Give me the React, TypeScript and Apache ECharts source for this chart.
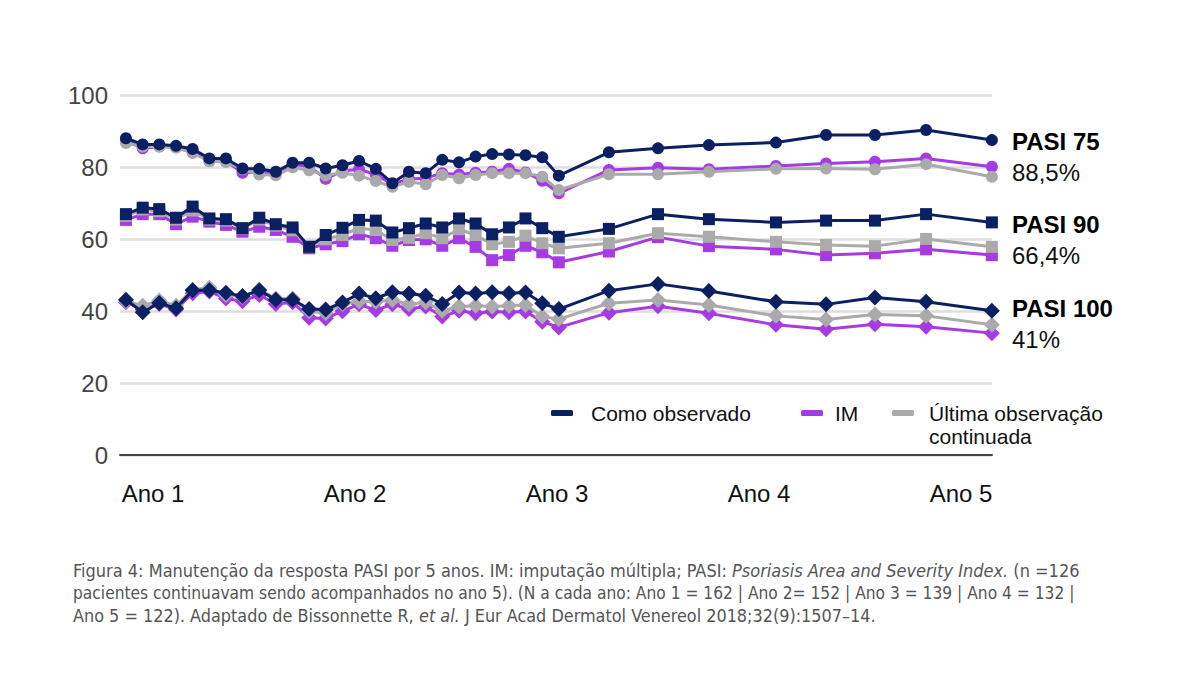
import React, { useEffect, useRef } from "react";
import * as echarts from "echarts";

// x position of each visit, in years
const xYears = [0.866, 0.949, 1.031, 1.114, 1.196, 1.279, 1.361, 1.443, 1.526, 1.608, 1.691, 1.773, 1.855, 1.938, 2.02, 2.103, 2.185, 2.267, 2.35, 2.432, 2.515, 2.597, 2.679, 2.762, 2.844, 2.927, 3.009, 3.257, 3.5, 3.752, 4.084, 4.332, 4.574, 4.827, 5.153];

const yearTicks = [1, 2, 3, 4, 5];
const yTicks = [0, 20, 40, 60, 80, 100];

const pasi75Obs = [88.1, 86.4, 86.4, 86.0, 85.1, 82.5, 82.5, 79.7, 79.6, 78.8, 81.3, 81.3, 79.7, 80.6, 81.8, 79.6, 75.6, 78.8, 78.4, 82.1, 81.4, 83.0, 83.7, 83.6, 83.4, 82.8, 77.7, 84.2, 85.3, 86.2, 86.9, 89.0, 89.0, 90.4, 87.6];
const pasi75IM = [87.5, 85.3, 85.8, 85.6, 84.5, 81.8, 81.8, 78.5, 78.8, 78.3, 80.8, 80.3, 76.8, 79.0, 79.5, 78.0, 75.3, 76.8, 77.0, 78.4, 78.0, 78.5, 78.8, 79.6, 78.6, 76.3, 72.8, 79.3, 79.9, 79.5, 80.4, 81.1, 81.6, 82.5, 80.2];
const pasi75LOCF = [86.8, 85.8, 85.8, 85.5, 84.0, 81.7, 81.5, 79.5, 78.0, 77.8, 80.0, 79.2, 77.8, 78.5, 77.7, 76.2, 74.6, 76.0, 75.3, 77.9, 77.0, 77.9, 78.4, 78.4, 78.4, 77.4, 73.7, 78.1, 78.1, 78.8, 79.6, 79.7, 79.5, 80.9, 77.4];

const pasi90Obs = [67.0, 68.8, 68.4, 66.0, 69.1, 65.8, 65.6, 63.1, 66.0, 64.2, 63.3, 57.9, 61.2, 63.2, 65.4, 65.2, 61.9, 63.1, 64.4, 63.3, 65.8, 64.4, 61.4, 63.3, 65.8, 63.1, 60.7, 62.9, 67.0, 65.6, 64.7, 65.2, 65.2, 67.0, 64.7];
const pasi90IM = [65.4, 67.0, 67.0, 64.2, 66.3, 64.9, 64.0, 62.1, 63.5, 62.6, 60.7, 57.5, 58.6, 59.5, 61.4, 60.3, 58.2, 59.8, 60.0, 58.2, 60.3, 57.9, 54.2, 55.6, 58.2, 56.4, 53.6, 56.6, 60.6, 58.1, 57.2, 55.6, 56.1, 57.2, 55.6];
const pasi90LOCF = [66.5, 68.3, 67.8, 65.5, 68.0, 65.5, 65.2, 63.0, 65.5, 63.8, 62.5, 58.0, 60.0, 61.2, 63.1, 62.6, 59.8, 60.4, 61.7, 60.3, 62.8, 61.2, 58.6, 59.3, 61.0, 58.9, 57.5, 58.9, 61.7, 60.7, 59.3, 58.4, 58.1, 60.1, 57.9];

const pasi100Obs = [43.2, 39.7, 42.3, 40.8, 45.8, 45.8, 45.1, 44.2, 45.8, 43.2, 43.2, 40.6, 40.5, 42.4, 44.9, 43.6, 45.3, 44.9, 44.3, 42.0, 45.2, 44.9, 45.3, 45.0, 45.2, 42.2, 40.6, 45.7, 47.6, 45.6, 42.6, 41.9, 43.8, 42.6, 40.1];
const pasi100IM = [42.5, 40.5, 42.0, 40.5, 45.0, 45.5, 43.5, 42.8, 44.5, 42.0, 42.5, 38.2, 38.0, 40.0, 41.9, 40.3, 41.9, 40.6, 41.3, 38.5, 40.1, 39.4, 39.9, 39.7, 39.9, 37.1, 35.5, 39.6, 41.4, 39.4, 36.2, 35.0, 36.4, 35.7, 33.9];
const pasi100LOCF = [42.8, 41.5, 43.0, 41.5, 46.0, 46.5, 44.5, 44.0, 46.0, 43.5, 43.5, 40.0, 39.5, 42.0, 42.8, 42.6, 43.1, 41.9, 42.5, 40.1, 41.3, 41.5, 41.3, 41.5, 41.7, 38.5, 37.8, 42.2, 43.1, 41.7, 38.7, 37.7, 39.1, 38.7, 36.2];

const methodNames = ["Como observado", "IM", "Última observação continuada"];
const endLabels = [
  { title: "PASI 75", value: "88,5%" },
  { title: "PASI 90", value: "66,4%" },
  { title: "PASI 100", value: "41%" },
];
const captionLines = [
  "Figura 4: Manutenção da resposta PASI por 5 anos. IM: imputação múltipla; PASI: {i|Psoriasis Area and Severity Index.} (n =126",
  "pacientes continuavam sendo acompanhados no ano 5). (N a cada ano: Ano 1 = 162 | Ano 2= 152 | Ano 3 = 139 | Ano 4 = 132 |",
  "Ano 5 = 122). Adaptado de Bissonnette R, {i|et al.} J Eur Acad Dermatol Venereol 2018;32(9):1507–14.",
];

const NAVY = "#0b1f63";
const PURPLE = "#a63ae3";
const GRAY = "#aaaaaa";

export default function App() {
  const ref = useRef<HTMLDivElement>(null);
  useEffect(() => {
    if (!ref.current) return;
    const chart = echarts.init(ref.current, undefined, { renderer: "svg" });
    const toData = (arr: number[]) => arr.map((v, i) => [xYears[i], v]);
    const groups = [
      { obs: pasi75Obs, im: pasi75IM, locf: pasi75LOCF, symbol: "circle", size: 12 },
      { obs: pasi90Obs, im: pasi90IM, locf: pasi90LOCF, symbol: "rect", size: 12 },
      { obs: pasi100Obs, im: pasi100IM, locf: pasi100LOCF, symbol: "diamond", size: 16 },
    ];
    const series: any[] = [];
    const mk = (name: string, arr: number[], color: string, symbol: string, size: number, z: number) => ({
      type: "line",
      name,
      data: toData(arr),
      symbol,
      symbolSize: size,
      showSymbol: true,
      lineStyle: { color, width: 3 },
      itemStyle: { color },
      z,
      silent: true,
    });
    groups.forEach((g) => {
      series.push(mk(methodNames[1], g.im, PURPLE, g.symbol, g.size, 2));
      series.push(mk(methodNames[2], g.locf, GRAY, g.symbol, g.size, 3));
      series.push(mk(methodNames[0], g.obs, NAVY, g.symbol, g.size, 4));
    });
    const font = "'Liberation Sans', Arial, sans-serif";
    const baseText = { fontFamily: font, fontSize: 21, color: "#111" };
    const legendBase = {
      top: 402.5,
      padding: 0,
      itemWidth: 22,
      itemHeight: 6,
      icon: "roundRect",
      selectedMode: false,
    };
    const graphics: any[] = [];
    const labelY = [142, 225, 309];
    endLabels.forEach((l, i) => {
      graphics.push({
        type: "text",
        left: 1012,
        top: labelY[i] - 13,
        style: { text: l.title, font: `bold 24px ${font}`, fill: "#000" },
      });
      graphics.push({
        type: "text",
        left: 1012,
        top: labelY[i] + 18,
        style: { text: l.value, font: `24px ${font}`, fill: "#111" },
      });
    });
    // second line of the third legend entry
    graphics.push({
      type: "text",
      x: 929,
      y: 436,
      style: { text: "continuada", font: `21px ${font}`, fill: "#111", verticalAlign: "middle" },
    });
    const capFont = "'Liberation Sans Narrow', 'DejaVu Sans Condensed', sans-serif";
    const capScale = [1.0, 0.957, 0.993];
    captionLines.forEach((line, i) => {
      graphics.push({
        type: "text",
        x: 73,
        y: 561 + i * 22.5,
        scaleX: capScale[i],
        style: {
          text: line,
          font: `18px ${capFont}`,
          fill: "#555",
          rich: { i: { fontStyle: "italic", fontSize: 18, fontFamily: capFont, fill: "#555" } },
        },
      });
    });
    chart.setOption({
      animation: false,
      backgroundColor: "#fff",
      grid: { left: 120, right: 208, top: 95.5, bottom: 236, containLabel: false },
      xAxis: {
        type: "value",
        min: 0.8366,
        max: 5.1535,
        splitLine: { show: false },
        axisTick: { show: false },
        axisLine: { show: true, lineStyle: { color: "#444", width: 2 } },
        axisLabel: {
          customValues: yearTicks,
          formatter: (v: number) => `Ano ${Math.round(v)}`,
          fontFamily: font,
          fontSize: 24,
          color: "#111",
          margin: 26,
        },
      },
      yAxis: {
        type: "value",
        min: yTicks[0],
        max: yTicks[yTicks.length - 1],
        interval: 20,
        axisLine: { show: false },
        axisTick: { show: false },
        splitLine: { lineStyle: { color: "#dedede", width: 2.5 } },
        axisLabel: { fontFamily: font, fontSize: 24, color: "#444", margin: 12 },
      },
      legend: [
        { ...legendBase, left: 551, data: [methodNames[0]], textStyle: { ...baseText, padding: [0, 0, 0, 13] } },
        { ...legendBase, left: 801, data: [methodNames[1]], textStyle: { ...baseText, padding: [0, 0, 0, 7] } },
        {
          ...legendBase,
          left: 892,
          data: [methodNames[2]],
          formatter: () => "Última observação",
          textStyle: { ...baseText, padding: [0, 0, 0, 10] },
        },
      ],
      graphic: graphics,
      series,
    });
    return () => chart.dispose();
  }, []);
  return <div ref={ref} style={{ position: "fixed", left: 0, top: 0, width: 1200, height: 691 }} />;
}
